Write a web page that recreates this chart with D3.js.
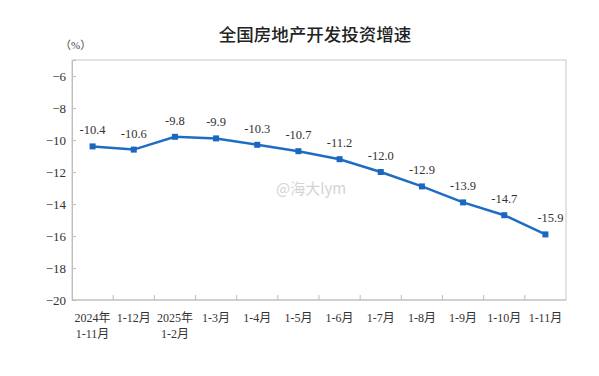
<!DOCTYPE html>
<html><head><meta charset="utf-8">
<script src="https://cdn.jsdelivr.net/npm/d3@7"></script>
<style>body{margin:0;background:#fff}</style>
</head><body>
<svg id="c" width="599" height="376"></svg>
<script>
const categories = [["2024年","1-11月"],["1-12月"],["2025年","1-2月"],["1-3月"],["1-4月"],["1-5月"],["1-6月"],["1-7月"],["1-8月"],["1-9月"],["1-10月"],["1-11月"]];
const values = [-10.4,-10.6,-9.8,-9.9,-10.3,-10.7,-11.2,-12.0,-12.9,-13.9,-14.7,-15.9];
const yTicks = [-6,-8,-10,-12,-14,-16,-18,-20];
const title = "全国房地产开发投资增速";

const svg = d3.select("#c");
const L=72,R=566,T=60,B=300;
const font = "'Liberation Serif','Noto Sans CJK SC',serif";
const x = d3.scaleBand().domain(d3.range(categories.length)).range([L,R]);
const y = d3.scaleLinear().domain([-20,-5]).range([B,T]);

svg.append("text").attr("x",315).attr("y",41).attr("text-anchor","middle")
  .attr("font-family","'Noto Sans CJK SC',sans-serif").attr("font-size",17.5).attr("font-weight",500).attr("fill","#222").text(title);
svg.append("text").attr("x",60).attr("y",49).attr("font-family",font).attr("font-size",11).attr("fill","#444").text("（%）");

// frame
svg.append("rect").attr("x",L).attr("y",T).attr("width",R-L).attr("height",B-T).attr("fill","none").attr("stroke","#c8c8c8").attr("stroke-width",1);

// y axis
const ya = svg.append("g").attr("transform",`translate(${L},0)`)
  .call(d3.axisRight(y).tickValues(yTicks).tickSize(4).tickFormat(d3.format("d")));
ya.select(".domain").attr("stroke","#bdbdbd");
ya.selectAll(".tick line").attr("stroke","#bdbdbd");
ya.selectAll(".tick text").attr("x",-6).attr("text-anchor","end").attr("font-family",font).attr("font-size",13).attr("fill","#333");

// x axis ticks at band boundaries
const xa = svg.append("g").attr("transform",`translate(0,${B})`);
xa.append("line").attr("x1",L).attr("x2",R).attr("stroke","#bdbdbd");
xa.selectAll("line.t").data(d3.range(1,categories.length)).join("line").attr("class","t")
  .attr("x1",i=>x(i)).attr("x2",i=>x(i)).attr("y1",0).attr("y2",-5).attr("stroke","#bdbdbd");
const xl = xa.selectAll("text").data(categories).join("text")
  .attr("text-anchor","middle").attr("font-family",font).attr("font-size",12).attr("fill","#333");
xl.each(function(d,i){
  const t=d3.select(this);
  d.forEach((s,k)=>t.append("tspan").attr("x",x(i)+x.bandwidth()/2).attr("y",22+k*16).text(s));
});

// line
const cx = i=>x(i)+x.bandwidth()/2;
const line = d3.line().x((d,i)=>cx(i)).y(d=>y(d));
svg.append("path").datum(values).attr("d",line).attr("fill","none").attr("stroke","#1f6cc4").attr("stroke-width",2.5);
svg.selectAll("rect.m").data(values).join("rect").attr("class","m")
  .attr("x",(d,i)=>cx(i)-3).attr("y",d=>y(d)-3).attr("width",6).attr("height",6).attr("fill","#1a66c0");
svg.selectAll("text.v").data(values).join("text").attr("class","v")
  .attr("x",(d,i)=>cx(i)+(i==11?5:0)).attr("y",d=>y(d)-12).attr("text-anchor","middle")
  .attr("font-family",font).attr("font-size",12.5).attr("fill","#333")
  .text(d=>d.toFixed(1));

// watermark
svg.append("text").attr("x",276).attr("y",194).attr("font-family","'Noto Sans CJK SC',sans-serif").attr("font-size",15)
  .attr("fill","#d4d4d4").text("@海大lym");
</script>
</body></html>
